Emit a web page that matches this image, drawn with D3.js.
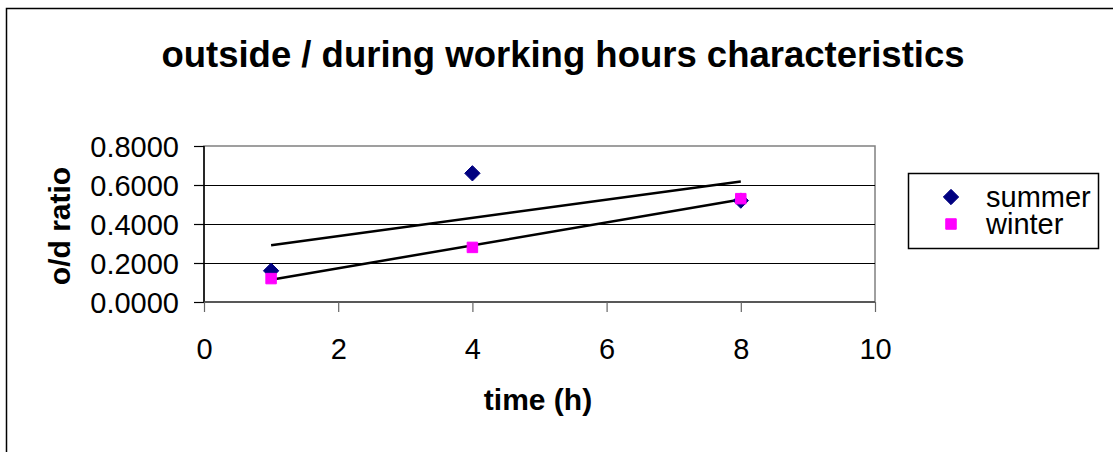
<!DOCTYPE html>
<html>
<head>
<meta charset="utf-8">
<script src="https://cdn.jsdelivr.net/npm/d3@7"></script>
<style>
  html, body { margin: 0; padding: 0; background: #fff; }
  svg { display: block; }
  text { font-family: "Liberation Sans", Arial, sans-serif; fill: #000; }
</style>
</head>
<body>
<svg id="chart" width="1113" height="452"></svg>
<script>
const titleText = "outside / during working hours characteristics";
const xTitle = "time (h)";
const yTitle = "o/d ratio";
const seriesNames = ["summer", "winter"];
const hours = [1, 4, 8];
const summerValues = [0.16, 0.66, 0.52];
const winterValues = [0.12, 0.28, 0.53];
const xTicks = [0, 2, 4, 6, 8, 10];
const yTicks = [0, 0.2, 0.4, 0.6, 0.8];

const svg = d3.select("#chart");
const plot = { left: 204, right: 875, top: 146, bottom: 302 };

const x = d3.scaleLinear().domain([0, 10]).range([plot.left, plot.right]);
const y = d3.scaleLinear().domain([0, 0.8]).range([plot.bottom, plot.top]);

// outer chart border
svg.append("rect")
  .attr("x", 6.5).attr("y", 8.5)
  .attr("width", 1200).attr("height", 500)
  .attr("fill", "#fff").attr("stroke", "#000").attr("stroke-width", 1.5);

// title
svg.append("text")
  .attr("x", 563).attr("y", 67)
  .attr("text-anchor", "middle")
  .attr("font-size", 36.5).attr("font-weight", "bold")
  .text(titleText);

// plot area
svg.append("rect")
  .attr("x", plot.left).attr("y", plot.top)
  .attr("width", plot.right - plot.left).attr("height", plot.bottom - plot.top)
  .attr("fill", "#fff").attr("stroke", "#808080").attr("stroke-width", 1.5);

// gridlines
svg.append("g").selectAll("line")
  .data(yTicks.filter(v => v > 0 && v < 0.8))
  .join("line")
  .attr("x1", plot.left).attr("x2", plot.right)
  .attr("y1", d => Math.round(y(d)) + 0.5).attr("y2", d => Math.round(y(d)) + 0.5)
  .attr("stroke", "#000").attr("stroke-width", 1);

// y axis
const yAxis = svg.append("g")
  .attr("transform", `translate(${plot.left},0)`)
  .call(d3.axisLeft(y).tickValues(yTicks).tickSize(10).tickPadding(15).tickFormat(d3.format(".4f")));
yAxis.select(".domain").attr("stroke", "#000").attr("stroke-width", 1.5)
  .attr("d", `M0,${plot.top}V${plot.bottom}`);
yAxis.selectAll(".tick line").attr("stroke", "#000").attr("stroke-width", 1.2);
yAxis.selectAll(".tick text")
  .attr("font-size", 29).attr("font-family", "Liberation Sans, Arial, sans-serif")
  .attr("dy", "0.36em").attr("fill", "#000");

// x axis
const xAxis = svg.append("g")
  .attr("transform", `translate(0,${plot.bottom})`)
  .call(d3.axisBottom(x).tickValues(xTicks).tickSize(10).tickPadding(26).tickFormat(d3.format("d")));
xAxis.select(".domain").attr("stroke", "#404040").attr("stroke-width", 1.5)
  .attr("d", `M${plot.left},0H${plot.right}`);
xAxis.selectAll(".tick line").attr("stroke", "#666").attr("stroke-width", 1.2);
xAxis.selectAll(".tick text")
  .attr("font-size", 29).attr("font-family", "Liberation Sans, Arial, sans-serif")
  .attr("fill", "#000");

// axis titles
svg.append("text")
  .attr("x", 538).attr("y", 410)
  .attr("text-anchor", "middle")
  .attr("font-size", 30).attr("font-weight", "bold")
  .text(xTitle);
svg.append("text")
  .attr("transform", "translate(70,226) rotate(-90)")
  .attr("text-anchor", "middle")
  .attr("font-size", 30).attr("font-weight", "bold")
  .text(yTitle);

// linear trendlines
function fit(xs, ys) {
  const mx = d3.mean(xs), my = d3.mean(ys);
  const sxy = d3.sum(xs.map((v, i) => (v - mx) * (ys[i] - my)));
  const sxx = d3.sum(xs.map(v => (v - mx) * (v - mx)));
  const b = sxy / sxx;
  return v => my + b * (v - mx);
}
const series = [
  { name: seriesNames[0], values: summerValues, color: "#000080", symbol: d3.symbolDiamond2, size: 150 },
  { name: seriesNames[1], values: winterValues, color: "#FF00FF", symbol: d3.symbolSquare2, size: 140 }
];
const xr = d3.extent(hours);
series.forEach(s => {
  const f = fit(hours, s.values);
  svg.append("line")
    .attr("x1", x(xr[0])).attr("y1", y(f(xr[0])))
    .attr("x2", x(xr[1])).attr("y2", y(f(xr[1])))
    .attr("stroke", "#000").attr("stroke-width", 2.5);
});

// markers
series.forEach(s => {
  svg.append("g").selectAll("path")
    .data(s.values.map((v, i) => [hours[i], v]))
    .join("path")
    .attr("transform", d => `translate(${x(d[0])},${y(d[1])})`)
    .attr("d", d3.symbol().type(s.symbol).size(s.size))
    .attr("fill", s.color).attr("stroke", s.color).attr("stroke-width", 1);
});

// legend
const lg = svg.append("g");
lg.append("rect")
  .attr("x", 908.5).attr("y", 173.5).attr("width", 190).attr("height", 75)
  .attr("fill", "#fff").attr("stroke", "#000").attr("stroke-width", 1.5);
series.forEach((s, i) => {
  const cy = 197 + i * 27;
  lg.append("path")
    .attr("transform", `translate(951,${cy})`)
    .attr("d", d3.symbol().type(s.symbol).size(s.size))
    .attr("fill", s.color).attr("stroke", s.color).attr("stroke-width", 1);
  lg.append("text")
    .attr("x", 986).attr("y", cy).attr("dy", "0.36em")
    .attr("font-size", 29)
    .text(s.name);
});
</script>
</body>
</html>
